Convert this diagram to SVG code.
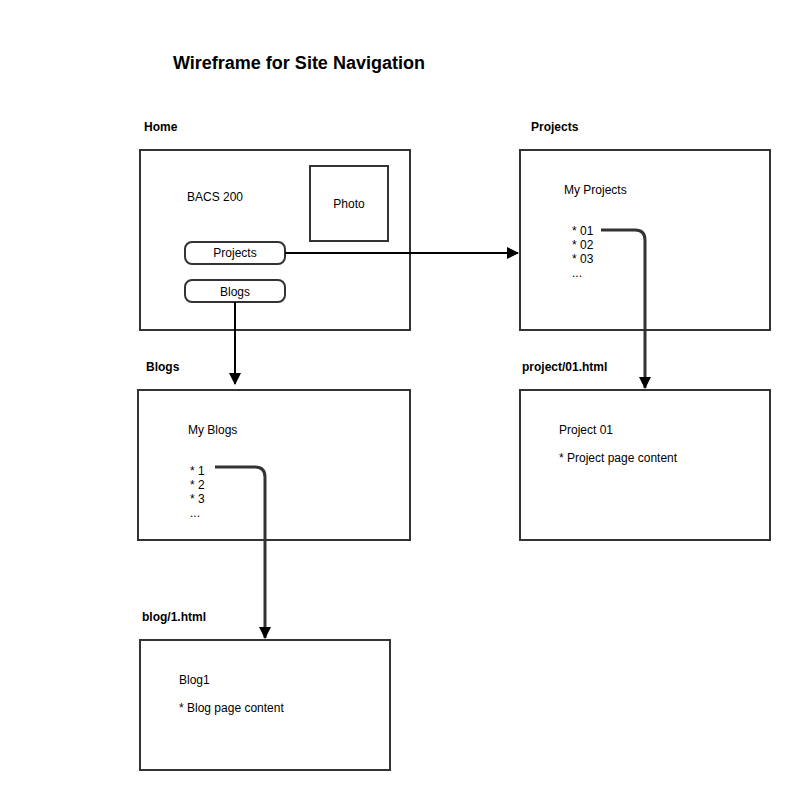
<svg xmlns="http://www.w3.org/2000/svg" width="790" height="790" viewBox="0 0 790 790">
<style>
  .box{fill:#fff;stroke:#333;stroke-width:2}
  .t{font-family:"Liberation Sans",Arial,sans-serif;font-size:12px;fill:#000}
  .b{font-family:"Liberation Sans",Arial,sans-serif;font-size:12px;font-weight:bold;fill:#000}
  .c{fill:none;stroke:#000;stroke-width:2}
  .c2{fill:none;stroke:#333;stroke-width:3}
</style>
<defs>
  <marker id="arr" viewBox="0 0 12 12" refX="11" refY="6" markerWidth="12" markerHeight="12" markerUnits="userSpaceOnUse" orient="auto">
    <path d="M0,0 L12,6 L0,12 Z" fill="#000"/>
  </marker>
  <marker id="arr2" viewBox="0 0 12 12" refX="11" refY="6" markerWidth="12" markerHeight="12" markerUnits="userSpaceOnUse" orient="auto">
    <path d="M0,0 L12,6 L0,12 Z" fill="#000"/>
  </marker>
</defs>
<rect width="790" height="790" fill="#fff"/>
<text x="173" y="69" font-family="Liberation Sans,Arial,sans-serif" font-size="18" font-weight="bold">Wireframe for Site Navigation</text>

<g id="home">
  <text class="b" x="144" y="131">Home</text>
  <rect class="box" x="140" y="150" width="270" height="180"/>
  <text class="t" x="187" y="201">BACS 200</text>
  <g id="photo">
    <rect class="box" x="310" y="166" width="78" height="75"/>
    <text class="t" x="349" y="208" text-anchor="middle">Photo</text>
  </g>
  <g id="btn-projects">
    <rect class="box" x="185" y="242" width="100" height="22" rx="7"/>
    <text class="t" x="235" y="257" text-anchor="middle">Projects</text>
  </g>
  <g id="btn-blogs">
    <rect class="box" x="185" y="280" width="100" height="22" rx="7"/>
    <text class="t" x="235" y="296" text-anchor="middle">Blogs</text>
  </g>
</g>

<g id="projects">
  <text class="b" x="531" y="131">Projects</text>
  <rect class="box" x="520" y="150" width="250" height="180"/>
  <text class="t" x="564" y="194">My Projects</text>
  <text class="t" x="572" y="235">* 01</text>
  <text class="t" x="572" y="249">* 02</text>
  <text class="t" x="572" y="263">* 03</text>
  <text class="t" x="572" y="277">...</text>
</g>

<g id="blogs">
  <text class="b" x="146" y="371">Blogs</text>
  <rect class="box" x="138" y="390" width="272" height="150"/>
  <text class="t" x="188" y="434">My Blogs</text>
  <text class="t" x="190" y="475">* 1</text>
  <text class="t" x="190" y="489">* 2</text>
  <text class="t" x="190" y="503">* 3</text>
  <text class="t" x="190" y="517">...</text>
</g>

<g id="project01">
  <text class="b" x="522" y="371">project/01.html</text>
  <rect class="box" x="520" y="390" width="250" height="150"/>
  <text class="t" x="559" y="434">Project 01</text>
  <text class="t" x="559" y="462">* Project page content</text>
</g>

<g id="blog1">
  <text class="b" x="142" y="621">blog/1.html</text>
  <rect class="box" x="140" y="640" width="250" height="130"/>
  <text class="t" x="179" y="684">Blog1</text>
  <text class="t" x="179" y="712">* Blog page content</text>
</g>

<g id="connectors">
  <path class="c" d="M285,253 L518,253" marker-end="url(#arr)"/>
  <path class="c" d="M235,302 L235,384" marker-end="url(#arr)"/>
  <path class="c2" d="M601,230 L635,230 Q645,230 645,240 L645,388" marker-end="url(#arr2)"/>
  <path class="c2" d="M215,467 L255,467 Q265,467 265,477 L265,638" marker-end="url(#arr2)"/>
</g>
</svg>
